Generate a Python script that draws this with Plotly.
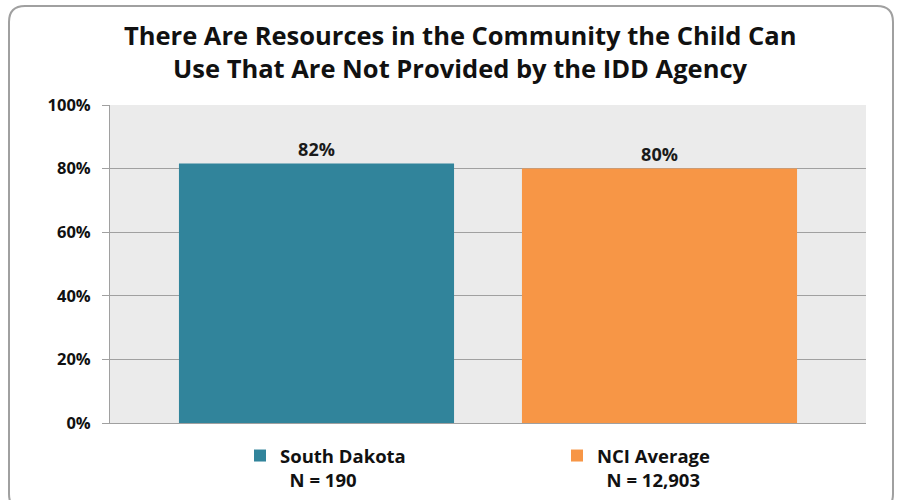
import plotly.graph_objects as go

series_names = ["South Dakota", "NCI Average"]
series_n = ["N = 190", "N = 12,903"]
values = [0.816, 0.80]
colors = ["#31849B", "#F79646"]
category = [""]
y_ticks = [0, 0.2, 0.4, 0.6, 0.8, 1.0]
title_lines = ["There Are Resources in the Community the Child Can",
               "Use That Are Not Provided by the IDD Agency"]

FONT = "Open Sans"

fig = go.Figure()
for name, n, v, c in zip(series_names, series_n, values, colors):
    fig.add_trace(go.Bar(
        x=category, y=[v], name=name + "<br>\u00a0\u00a0" + n,
        marker=dict(color=c, line=dict(width=0)),
        texttemplate="%{y:.0%}", textposition="outside",
        textfont=dict(family=FONT, size=18, color="#1a1a1a", weight="bold"),
        cliponaxis=False,
    ))

# plot-area pixel geometry
L, R, T, B = 110, 866, 105, 423
pw, ph = R - L, B - T
def px(x):
    return (x - L) / pw
def py(y):
    return (B - y) / ph

# rounded border
x0, x1, y0, y1, r = 9, 893, 6, 510, 16
path = (f"M {px(x0+r)},{py(y0)} L {px(x1-r)},{py(y0)} Q {px(x1)},{py(y0)} {px(x1)},{py(y0+r)} "
        f"L {px(x1)},{py(y1-r)} Q {px(x1)},{py(y1)} {px(x1-r)},{py(y1)} "
        f"L {px(x0+r)},{py(y1)} Q {px(x0)},{py(y1)} {px(x0)},{py(y1-r)} "
        f"L {px(x0)},{py(y0+r)} Q {px(x0)},{py(y0)} {px(x0+r)},{py(y0)} Z")

title_y = [35, 68]
annotations = [dict(text=t, x=px(460), y=py(yy), xref="paper", yref="paper",
                    xanchor="center", yanchor="middle", showarrow=False,
                    font=dict(family=FONT, size=25.5, color="#111111", weight="bold"))
               for t, yy in zip(title_lines, title_y)]

fig.update_layout(
    width=900, height=500,
    margin=dict(l=L, r=900 - R, t=T, b=500 - B, autoexpand=False),
    paper_bgcolor="white", plot_bgcolor="#EBEBEB",
    barmode="group", bargap=0.0926, bargroupgap=0.198,
    showlegend=True,
    legend=dict(orientation="h", x=px(240), xanchor="left", y=py(437), yanchor="top",
                font=dict(family=FONT, size=18.5, color="#111111", weight="bold"),
                entrywidth=272, entrywidthmode="pixels", valign="top",
                itemclick=False, bgcolor="rgba(0,0,0,0)"),
    yaxis=dict(range=[0, 1], tickvals=y_ticks, tickformat=".0%",
               showgrid=True, gridcolor="#A0A0A0", gridwidth=1,
               showline=True, linecolor="#A0A0A0", linewidth=1,
               ticks="outside", ticklen=7, tickcolor="#A0A0A0",
               ticklabelstandoff=8, zeroline=False,
               tickfont=dict(family=FONT, size=16.5, color="#111111", weight="bold")),
    xaxis=dict(showticklabels=False, showline=True, linecolor="#A0A0A0", linewidth=1,
               ticks=""),
    annotations=annotations,
    shapes=[dict(type="path", path=path, xref="paper", yref="paper",
                 line=dict(color="#A0A0A0", width=2), layer="above")],
)

fig.write_html("out.html", config={"displayModeBar": False},
               post_script="document.body.style.margin='0';")
